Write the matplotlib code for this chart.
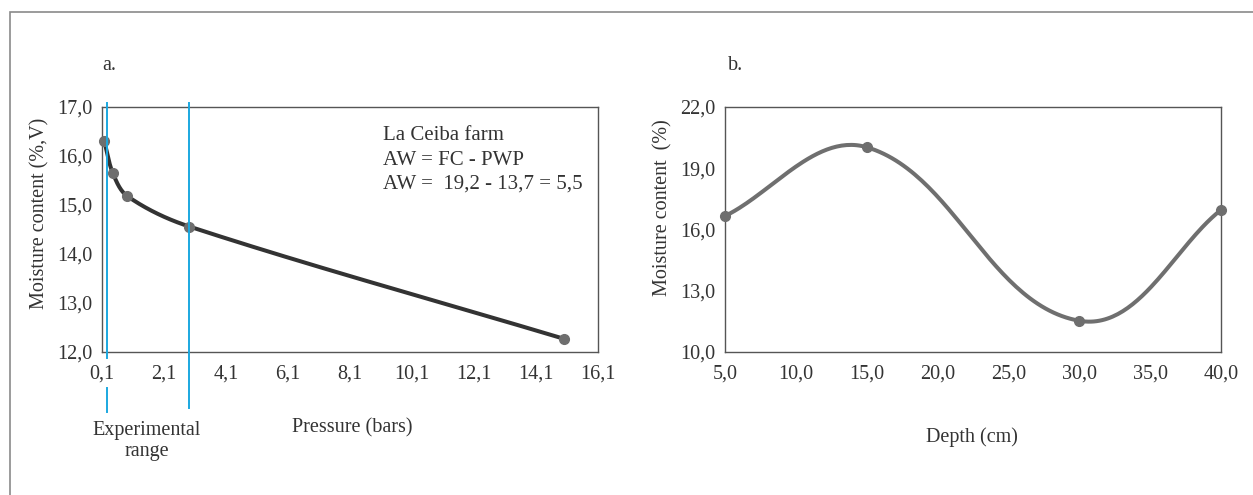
import numpy as np
import matplotlib
matplotlib.use("Agg")
import matplotlib.pyplot as plt
from matplotlib.patches import Rectangle

# ---------------- data ----------------
pressure = [0.17, 0.45, 0.92, 2.92, 15.0]          # bars
moisture_a = [16.31, 15.65, 15.18, 14.56, 12.27]   # %, V
range_lines = [0.25, 2.91]                          # experimental range limits
xticks_a = [0.1, 2.1, 4.1, 6.1, 8.1, 10.1, 12.1, 14.1, 16.1]
yticks_a = [12.0, 13.0, 14.0, 15.0, 16.0, 17.0]

depth = [5.0, 15.0, 30.0, 40.0]                    # cm
moisture_b = [16.66, 20.03, 11.53, 16.96]          # %
xticks_b = [5.0, 10.0, 15.0, 20.0, 25.0, 30.0, 35.0, 40.0]
yticks_b = [10.0, 13.0, 16.0, 19.0, 22.0]

note_lines = ["La Ceiba farm", "AW = FC - PWP", "AW =  19,2 - 13,7 = 5,5"]

W, H = 1253, 495
plt.rcParams['font.family'] = ['Liberation Serif', 'DejaVu Serif']
fig = plt.figure(figsize=(W / 100, H / 100), dpi=100)

def px_axes(l, t, r, b):
    return fig.add_axes([l / W, 1 - b / H, (r - l) / W, (b - t) / H])

def comma(v):
    return f"{v:.1f}".replace(".", ",")

def smooth_curve(xs, ys, xlim, ylim, wpx, hpx, t=1/3, n=60):
    xs = np.asarray(xs, float); ys = np.asarray(ys, float)
    P = np.column_stack([(xs - xlim[0]) / (xlim[1] - xlim[0]) * wpx,
                         (ys - ylim[0]) / (ylim[1] - ylim[0]) * hpx])
    k = len(P)
    T = np.zeros_like(P)
    for i in range(k):
        if i == 0:
            v = P[1] - P[0]
        elif i == k - 1:
            v = P[-1] - P[-2]
        else:
            v = P[i + 1] - P[i - 1]
        T[i] = v / np.linalg.norm(v)
    out = []
    s = np.linspace(0, 1, n)[:, None]
    for i in range(k - 1):
        L = np.linalg.norm(P[i + 1] - P[i])
        c0, c3 = P[i], P[i + 1]
        c1 = c0 + T[i] * L * t
        c2 = c3 - T[i + 1] * L * t
        seg = ((1 - s) ** 3) * c0 + 3 * ((1 - s) ** 2) * s * c1 + 3 * (1 - s) * s ** 2 * c2 + s ** 3 * c3
        out.append(seg if i == 0 else seg[1:])
    Q = np.vstack(out)
    return (Q[:, 0] / wpx * (xlim[1] - xlim[0]) + xlim[0],
            Q[:, 1] / hpx * (ylim[1] - ylim[0]) + ylim[0])

FS = 14.5
spine_col = '#555555'
blue = '#1BA8E0'
txt_col = '#333333'

# outer frame
fig.patches.append(Rectangle((10 / W, -0.05), 1.2, 1 - 11.5 / H + 0.05, transform=fig.transFigure,
                             fill=False, edgecolor='#8a8a8a', linewidth=1.2))

# ---------------- panel a ----------------
axa = px_axes(102, 107, 598, 352)
xl_a, yl_a = (0.1, 16.1), (12.0, 17.0)
axa.set_xlim(*xl_a); axa.set_ylim(*yl_a)
cx, cy = smooth_curve(pressure, moisture_a, xl_a, yl_a, 496, 245)
axa.plot(cx, cy, color='#333333', lw=2.9, solid_capstyle='round', zorder=3)
axa.plot(pressure, moisture_a, 'o', color='#6e6e6e', ms=7, zorder=4, clip_on=False)
axa.set_xticks(xticks_a); axa.set_xticklabels([comma(v) for v in xticks_a])
axa.set_yticks(yticks_a); axa.set_yticklabels([comma(v) for v in yticks_a])
tr = axa.get_xaxis_transform()
axa.plot([range_lines[0]] * 2, [1.018, -0.025], color=blue, lw=1.4, transform=tr, clip_on=False, zorder=5)
axa.plot([range_lines[0]] * 2, [-0.147, -0.245], color=blue, lw=1.4, transform=tr, clip_on=False, zorder=5)
axa.plot([range_lines[1]] * 2, [1.018, -0.229], color=blue, lw=1.4, transform=tr, clip_on=False, zorder=5)
for i, line in enumerate(note_lines):
    axa.text(383 / W, 1 - (136 + 24 * i) / H, line, transform=fig.transFigure, fontsize=FS + 0.5,
             ha='left', va='center', color=txt_col)

# ---------------- panel b ----------------
axb = px_axes(725, 107, 1221, 352)
xl_b, yl_b = (5.0, 40.0), (10.0, 22.0)
axb.set_xlim(*xl_b); axb.set_ylim(*yl_b)
cx, cy = smooth_curve(depth, moisture_b, xl_b, yl_b, 496, 245)
axb.plot(cx, cy, color='#6f6f6f', lw=2.9, solid_capstyle='round', zorder=3)
axb.plot(depth, moisture_b, 'o', color='#6e6e6e', ms=7, zorder=4, clip_on=False)
axb.set_xticks(xticks_b); axb.set_xticklabels([comma(v) for v in xticks_b])
axb.set_yticks(yticks_b); axb.set_yticklabels([comma(v) for v in yticks_b])

for ax in (axa, axb):
    for sp in ax.spines.values():
        sp.set_color(spine_col); sp.set_linewidth(1.0)
    ax.tick_params(length=0, labelsize=FS, colors=txt_col)
    ax.tick_params(axis='x', pad=9)
    ax.tick_params(axis='y', pad=7)

# labels
def ftext(x, y, s, **kw):
    fig.text(x / W, 1 - y / H, s, fontsize=FS, color=txt_col, **kw)

ftext(102, 65, "a.", ha='left', va='center')
ftext(728, 65, "b.", ha='left', va='center')
ftext(40, 213, "Moisture content (%,V)", ha='center', va='center', rotation=90)
ftext(663, 208, "Moisture content  (%)", ha='center', va='center', rotation=90)
ftext(147, 441, "Experimental\nrange", ha='center', va='center', linespacing=1.1)
ftext(352, 428, "Pressure (bars)", ha='center', va='center')
ftext(972, 437, "Depth (cm)", ha='center', va='center')

fig.savefig("out.png", dpi=100)
